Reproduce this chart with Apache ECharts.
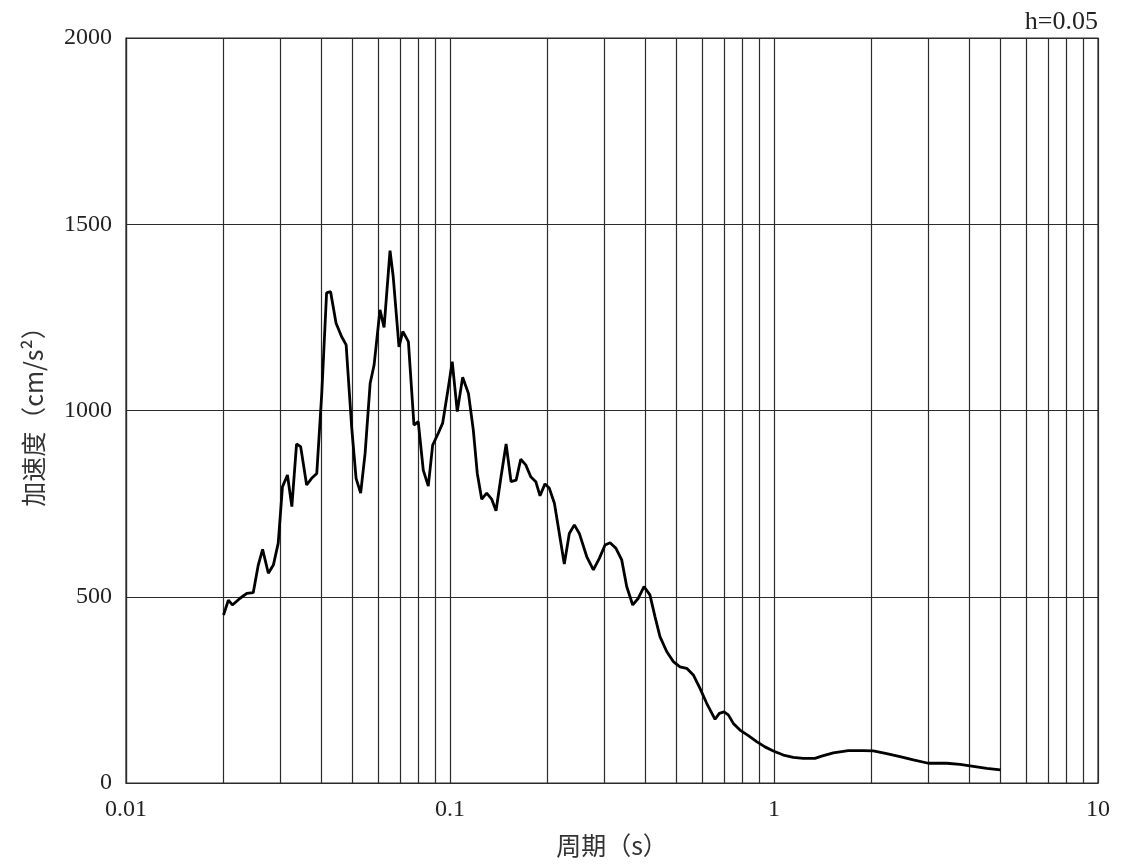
<!DOCTYPE html>
<html>
<head>
<meta charset="utf-8">
<script src="https://cdn.jsdelivr.net/npm/echarts@6/dist/echarts.min.js"></script>
<style>html,body{margin:0;padding:0;background:#fff}#c{width:1125px;height:867px}</style>
</head>
<body>
<div id="c"></div>
<script>
const periods = [0.0200,0.0207,0.0213,0.0225,0.0236,0.0247,0.0256,0.0264,0.0275,0.0285,0.0295,0.0304,0.0315,0.0325,0.0336,0.0346,0.0361,0.0374,0.0388,0.0402,0.0416,0.0428,0.0445,0.0463,0.0478,0.0497,0.0513,0.0530,0.0547,0.0567,0.0583,0.0608,0.0626,0.0653,0.0668,0.0696,0.0715,0.0744,0.0774,0.0798,0.0827,0.0857,0.0884,0.0920,0.0949,0.0989,0.1016,0.1053,0.1094,0.1140,0.1180,0.1214,0.1253,0.1298,0.1345,0.1387,0.1437,0.1490,0.1543,0.1600,0.1653,0.1713,0.1775,0.1840,0.1896,0.1964,0.2026,0.2100,0.2175,0.2253,0.2335,0.2420,0.2507,0.2642,0.2770,0.2890,0.3010,0.3119,0.3253,0.3388,0.3512,0.3664,0.3813,0.3970,0.4140,0.4294,0.4447,0.4664,0.4888,0.5128,0.5377,0.5636,0.5910,0.6198,0.6577,0.6781,0.7011,0.7228,0.7490,0.7853,0.8334,0.8841,0.9377,0.9952,1.0686,1.147,1.231,1.338,1.403,1.524,1.695,1.886,2.025,2.227,2.449,2.692,2.994,3.412,3.75,4.027,4.535,5.0];
const accel = [451,491,478,496,509,511,585,627,563,585,644,795,827,742,910,903,800,818,831,1046,1316,1319,1234,1198,1176,957,818,778,885,1073,1122,1270,1223,1429,1359,1171,1212,1185,961,970,840,797,907,939,966,1064,1131,997,1089,1046,948,831,762,778,762,731,822,910,809,813,869,854,822,809,771,803,791,751,670,588,670,693,670,608,572,603,639,645,630,599,527,478,496,527,505,446,393,353,326,312,308,290,254,214,171,187,191,183,160,142,127,111,97,86,75,69,66,66,72,81,87,87,86,79,71,62,53,53,50,46,39,35];
const xTickLabels = ['0.01','0.1','1','10'];
const yTicks = [0,500,1000,1500,2000];
const dampingText = 'h=0.05';
const xTitle = '周期（s）';
const yTitle = '加速度（cm/s²）';

// minor log grid positions (2..9 within each decade)
const minorGrid = [];
[0.01,0.1,1].forEach(d => { for (let k = 2; k <= 9; k++) minorGrid.push(+(d*k).toFixed(4)); });

const gridColor = '#2b2b2b';
const serif = '"Liberation Serif","DejaVu Serif",serif';
const cjk = '"Noto Sans CJK SC",sans-serif';
const chart = echarts.init(document.getElementById('c'));
chart.setOption({
  animation: false,
  backgroundColor: '#fff',
  grid: {left:126, right:27, top:38, bottom:84, show:true, borderColor:gridColor, borderWidth:1.2, backgroundColor:'transparent'},
  graphic: [{type:'text', right:27, top:9, style:{text:dampingText, font:'26px ' + serif, fill:'#222'}}],
  xAxis: {
    type:'log', logBase:10, min:0.01, max:10,
    name:xTitle, nameLocation:'middle', nameGap:50,
    nameTextStyle:{fontSize:25, color:'#333', fontFamily:cjk},
    axisLine:{show:true, lineStyle:{color:gridColor, width:1.2}},
    axisTick:{show:false},
    axisLabel:{margin:15, fontSize:24, color:'#222', fontFamily:serif,
      formatter: v => { const i = Math.round(Math.log10(v)) + 2; return xTickLabels[i] !== undefined ? xTickLabels[i] : ''; }},
    splitLine:{show:true, lineStyle:{color:gridColor, width:1.2}},
    minorTick:{show:false}, minorSplitLine:{show:false}
  },
  yAxis: {
    type:'value', min:yTicks[0], max:yTicks[yTicks.length-1], interval:500,
    name:yTitle, nameLocation:'middle', nameGap:80, nameRotate:90,
    nameTextStyle:{fontSize:25, color:'#333', fontFamily:cjk},
    axisLine:{show:true, lineStyle:{color:gridColor, width:1.2}},
    axisTick:{show:false},
    axisLabel:{margin:14, fontSize:24, color:'#222', fontFamily:serif, formatter: v => String(v)},
    splitLine:{show:true, lineStyle:{color:gridColor, width:1.2}}
  },
  series: [{
    type:'line', showSymbol:false, symbol:'none',
    data: periods.map((p,i) => [p, accel[i]]),
    lineStyle:{color:'#000', width:2.8}, z:5,
    markLine:{silent:true, symbol:'none', label:{show:false},
      lineStyle:{color:gridColor, width:1.2, type:'solid'},
      data: minorGrid.map(v => ({xAxis:v})), z:1}
  }]
});
</script>
</body>
</html>
